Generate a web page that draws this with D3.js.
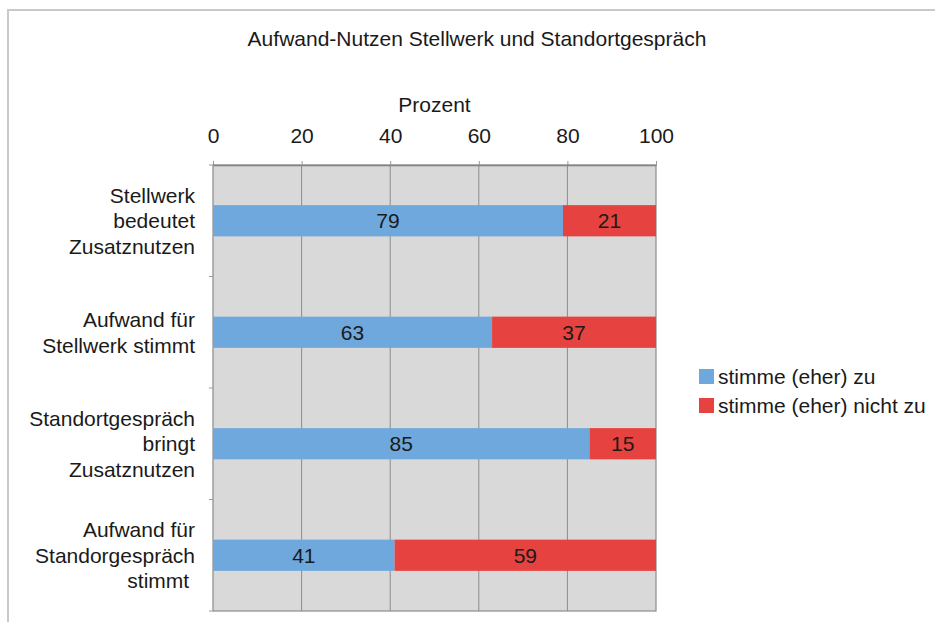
<!DOCTYPE html>
<html><head><meta charset="utf-8">
<script src="https://cdn.jsdelivr.net/npm/d3@7"></script>
<style>
body{margin:0;background:#fff;}
text{font-family:"Liberation Sans",Arial,Helvetica,sans-serif;fill:#1a1a1a;}
</style></head><body>
<svg id="chart" width="935" height="622"></svg>
<script>
const categories = [
  ["Stellwerk","bedeutet","Zusatznutzen"],
  ["Aufwand für","Stellwerk stimmt"],
  ["Standortgespräch","bringt","Zusatznutzen"],
  ["Aufwand für","Standorgespräch","stimmt "]
];
const seriesNames = ["stimme (eher) zu","stimme (eher) nicht zu"];
const agree = [79, 63, 85, 41];
const disagree = [21, 37, 15, 59];
const xTicks = [0,20,40,60,80,100];
const colors = ["#6fa8dc","#e6423f"];
const title = "Aufwand-Nutzen Stellwerk und Standortgespräch";
const axisTitle = "Prozent";

const svg = d3.select("#chart");
const L = 213, R = 656, T = 165, B = 611;
const FS = "21px";
const x = d3.scaleLinear().domain([0,100]).range([L,R]);
const ids = categories.map((c,i)=>i);
const y = d3.scaleBand().domain(ids).range([T,B]).paddingInner(0.72).paddingOuter(0.36);

// outer frame
svg.append("rect").attr("x",8).attr("y",10).attr("width",960).attr("height",640)
  .attr("fill","none").attr("stroke","#c9c9c9").attr("stroke-width",2);

// title
svg.append("text").attr("x",477).attr("y",46).attr("text-anchor","middle")
  .style("font-size","21px").text(title);
svg.append("text").attr("x",x(50)).attr("y",112).attr("text-anchor","middle")
  .style("font-size",FS).text(axisTitle);

// plot bg
svg.append("rect").attr("x",L).attr("y",T).attr("width",R-L).attr("height",B-T)
  .attr("fill","#d9d9d9");

// grid
svg.append("g").selectAll("line").data(xTicks.filter(d=>d>0&&d<100)).join("line")
  .attr("x1",d=>x(d)).attr("x2",d=>x(d)).attr("y1",T).attr("y2",B)
  .attr("stroke","#8c8c8c").attr("stroke-width",1);

// top axis
const xAxis = d3.axisTop(x).tickValues(xTicks).tickSize(4).tickSizeOuter(0).tickPadding(18);
const gx = svg.append("g").attr("transform",`translate(0,${T})`).call(xAxis);
gx.select(".domain").attr("stroke","#7a7a7a").attr("stroke-width",1.5);
gx.selectAll(".tick line").attr("stroke","#9a9a9a");
gx.selectAll(".tick text").style("font-size",FS).attr("fill","#1a1a1a")
  .style("font-family","'Liberation Sans',Arial,sans-serif");

// plot border
svg.append("rect").attr("x",L).attr("y",T).attr("width",R-L).attr("height",B-T)
  .attr("fill","none").attr("stroke","#8c8c8c").attr("stroke-width",1.2);

// left ticks at band boundaries
const bounds = ids.map(i=>y(i)-y.step()*y.paddingInner()/2).concat([B]);
svg.append("g").selectAll("line").data(bounds).join("line")
  .attr("x1",L-4).attr("x2",L).attr("y1",d=>d).attr("y2",d=>d)
  .attr("stroke","#9a9a9a");

// bars
const stacks = ids.map(i=>[
  {s:0,x0:0,x1:agree[i],v:agree[i],i},
  {s:1,x0:agree[i],x1:agree[i]+disagree[i],v:disagree[i],i}
]).flat();
svg.append("g").selectAll("rect").data(stacks).join("rect")
  .attr("x",d=>x(d.x0)).attr("width",d=>x(d.x1)-x(d.x0))
  .attr("y",d=>y(d.i)).attr("height",y.bandwidth())
  .attr("fill",d=>colors[d.s]);
svg.append("g").selectAll("text").data(stacks).join("text")
  .attr("x",d=>(x(d.x0)+x(d.x1))/2).attr("y",d=>y(d.i)+y.bandwidth()/2)
  .attr("dy","0.36em").attr("text-anchor","middle").style("font-size",FS)
  .text(d=>d.v);

// category labels
const lh = 25.5;
ids.forEach(i=>{
  const lines = categories[i];
  const cy = y(i)+y.bandwidth()/2;
  const t = svg.append("text").attr("text-anchor","end").style("font-size",FS)
    .style("white-space","pre");
  lines.forEach((ln,k)=>{
    t.append("tspan").attr("x",195).attr("y",cy+(k-(lines.length-1)/2)*lh)
      .attr("dy","0.36em").text(ln);
  });
});

// legend
const lg = svg.append("g");
seriesNames.forEach((n,k)=>{
  const yy = 376 + k*29;
  lg.append("rect").attr("x",699).attr("y",yy-7).attr("width",15).attr("height",15)
    .attr("fill",colors[k]);
  lg.append("text").attr("x",718).attr("y",yy).attr("dy","0.36em")
    .style("font-size",FS).text(n);
});
</script></body></html>
